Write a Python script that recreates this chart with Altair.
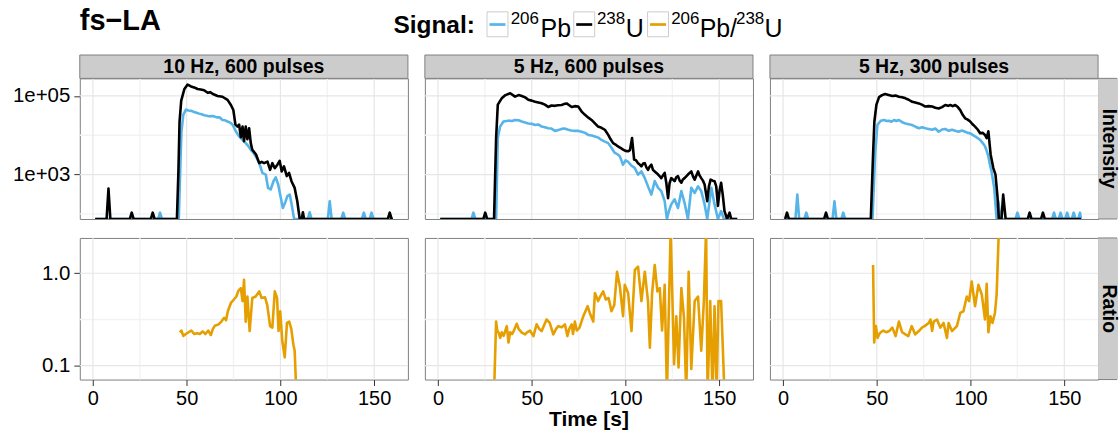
import altair as alt
import pandas as pd

FONT = "Liberation Sans"

# ---------------- data ----------------
PANEL_LABELS = ["10 Hz, 600 pulses", "5 Hz, 600 pulses", "5 Hz, 300 pulses"]
ROW_LABELS = ["Intensity", "Ratio"]
SERIES_NAMES = ["206Pb", "238U", "206Pb/238U"]
SERIES_COLORS = ["#56B4E9", "#000000", "#E69F00"]

X_TICKS = [0, 50, 100, 150]
X_MINOR = [25, 75, 125]
INT_TICKS = [1e3, 1e5]
INT_TICK_LABELS = ["1e+03", "1e+05"]
INT_MINOR = [1e2, 1e4]
RAT_TICKS = [0.1, 1.0]
RAT_MINOR = [0.316]

# 10 Hz, 600 pulses  (0 = no counts)
R1_PB_T = [1.2, 34.8, 35.8, 36.8, 45.8, 46.6, 47.2, 48.2, 49.6, 51.0, 52.5, 54.0, 55.2, 56.7, 58.0, 59.4,
           60.8, 62.1, 63.4, 64.7, 66.0, 67.5, 69.1, 70.5, 71.8, 73.2, 74.5, 76.2, 78.0, 79.8, 81.5,
           82.9, 84.2, 85.6, 86.9, 88.7, 90.4, 92.2, 93.4, 94.8, 96.3, 97.5, 98.8, 100.2, 101.3, 102.5,
           103.7, 105.0, 106.0, 107.3, 114.6, 115.6, 116.6, 125.3, 126.3, 127.3, 132.5, 133.5, 134.5,
           143.5, 144.5, 145.5, 147.6, 148.6, 149.6, 160.0]
R1_PB_V = [0, 0, 107, 0, 0, 1500, 12000, 33000, 44700, 42500, 41700, 38900, 37500, 35500, 34000, 32400,
           31500, 30200, 31000, 30200, 28500, 28800, 24500, 24000, 22400, 21000, 18600, 12600, 9330, 7590, 6310,
           5300, 4270, 3600, 2880, 1950, 1100, 1000, 457, 417, 676, 851, 562, 257, 141, 191,
           282, 309, 174, 0, 0, 110, 0, 0, 210, 0, 0, 107, 0,
           0, 107, 0, 0, 107, 0, 0]
R1_U_T = [1.2, 7.3, 8.3, 9.3, 19.7, 20.7, 21.7, 30.9, 31.9, 32.9, 44.8, 45.6, 46.2, 47.1, 48.8, 50.5,
          52.3, 54.0, 55.8, 57.5, 59.3, 61.2, 62.5, 64.0, 66.5, 69.1, 71.8, 73.6, 74.9, 76.0, 77.1,
          78.0, 78.9, 79.8, 80.6, 81.5, 82.4, 83.3, 84.2, 85.0, 87.0, 88.7, 90.0, 91.3, 93.1, 94.5,
          95.7, 97.0, 98.4, 99.6, 100.7, 101.9, 103.4, 104.6, 105.9, 107.6, 109.0, 110.3, 111.4, 112.0,
          112.6, 157.3, 158.3, 159.3, 160.0]
R1_U_V = [0, 0, 440, 0, 0, 107, 0, 0, 107, 0, 0, 1200, 22000, 76000, 151000, 195000,
          175000, 165000, 150000, 146000, 140000, 120000, 125000, 112000, 100000, 95500, 79400, 58900, 44000, 18600, 16600,
          18600, 8900, 16600, 7100, 16600, 7900, 15100, 6300, 4270, 3240, 1950, 2100, 1950, 2140, 1320,
          1950, 1450, 1780, 2240, 1200, 1620, 912, 1100, 676, 457, 209, 0, 0, 110,
          0, 0, 107, 0, 0]
R1_RAT_T = [46.4, 47.2, 48.2, 49.5, 51.0, 52.5, 54.0, 55.5, 57.0, 58.5, 60.0, 61.5, 62.9, 64.0, 65.0, 67.0,
            68.5, 70.0, 71.0, 72.0, 73.6, 75.2, 76.5, 77.5, 78.9, 79.8, 80.6, 81.5, 82.4, 83.6, 85.0,
            86.8, 88.7, 90.0, 91.8, 93.0, 94.5, 95.7, 97.0, 98.2, 99.0, 99.9, 101.0, 102.3, 103.5,
            104.7, 105.8, 106.9, 107.6, 108.5]
R1_RAT_V = [0.228, 0.24, 0.21, 0.22, 0.23, 0.24, 0.22, 0.225, 0.22, 0.235, 0.22, 0.24, 0.215, 0.25, 0.27, 0.28,
            0.30, 0.33, 0.31, 0.39, 0.477, 0.52, 0.56, 0.64, 0.69, 0.50, 0.85, 0.30, 0.56, 0.237, 0.54,
            0.56, 0.637, 0.54, 0.55, 0.45, 0.268, 0.258, 0.637, 0.54, 0.237, 0.388, 0.185, 0.123, 0.29,
            0.30, 0.25, 0.17, 0.145, 0.05]

# 5 Hz, 600 pulses
R2_PB_T = [1.2, 17.9, 18.9, 19.9, 31.0, 31.9, 33.1, 34.9, 37.6, 39.5, 41.1, 43.0, 44.7, 46.0, 48.2, 50.0,
           51.8, 53.5, 55.3, 57.0, 58.8, 60.5, 62.4, 64.0, 65.9, 67.5, 69.5, 71.0, 73.0, 75.0, 76.6,
           78.5, 80.1, 82.0, 83.7, 85.5, 87.2, 89.0, 90.8, 92.5, 94.3, 95.7, 97.0, 98.7, 100.0, 101.3,
           103.1, 104.9, 106.7, 108.5, 110.3, 112.0, 113.8, 115.6, 117.4, 119.1, 120.9, 122.1, 123.2,
           124.4, 126.2, 128.0, 129.8, 131.5, 133.3, 135.1, 136.9, 138.7, 140.4, 142.2, 143.6, 145.8,
           147.5, 149.3, 151.0, 152.5, 159.6]
R2_PB_V = [0, 0, 107, 0, 0, 8500, 16600, 22400, 23500, 23000, 24500, 24000, 22400, 21500, 20000, 19500,
           18200, 18800, 16600, 16000, 15100, 14800, 12900, 13500, 14500, 14800, 13800, 13200, 12900, 12900, 12300,
           11500, 10200, 9800, 9300, 8700, 7600, 6900, 6300, 4800, 3550, 3300, 2900, 1780, 2300, 2140,
           1700, 1480, 1000, 1200, 810, 500, 310, 680, 460, 380, 210, 0, 120,
           174, 234, 141, 380, 191, 0, 460, 339, 500, 380, 174, 0, 460,
           174, 0, 117, 0, 0]
R2_U_T = [1.2, 24.2, 25.2, 26.2, 29.9, 31.0, 31.9, 34.0, 36.0, 38.5, 41.1, 43.0, 44.7, 46.5, 48.2, 50.0,
          51.8, 53.5, 55.3, 57.0, 58.8, 60.5, 62.4, 64.0, 65.9, 67.2, 68.6, 70.0, 71.3, 73.0, 74.8,
          76.6, 78.4, 80.2, 81.9, 83.7, 85.4, 87.2, 89.0, 90.8, 92.0, 93.4, 94.7, 96.0, 97.3, 98.7,
          100.0, 101.3, 102.4, 103.5, 104.6, 105.6, 106.7, 107.6, 108.5, 109.4, 110.3, 111.2, 112.0,
          112.9, 113.8, 114.7, 115.6, 116.5, 117.4, 118.3, 119.1, 120.0, 120.9, 121.8, 122.7, 123.5,
          124.4, 125.3, 126.2, 127.1, 128.0, 128.9, 129.8, 130.6, 131.5, 132.4, 133.3, 134.2, 135.1,
          136.0, 136.9, 137.8, 138.7, 139.5, 140.4, 141.3, 142.2, 143.6, 144.5, 145.4, 146.5, 147.5,
          148.4, 149.3, 150.2, 151.0, 151.9, 152.8, 154.2, 155.5, 156.4, 159.6]
R2_U_V = [0, 0, 107, 0, 0, 8500, 60000, 87000, 105000, 117000, 96000, 105000, 100000, 92000, 80000, 76000,
          71000, 68000, 65000, 60000, 52500, 57000, 56000, 58000, 59000, 62000, 64500, 58000, 52500, 55000, 53700,
          40000, 33000, 28000, 24500, 20000, 16600, 15500, 13800, 10200, 8000, 6300, 5800, 5200, 4800, 4300,
          4000, 3900, 4200, 8500, 2400, 2300, 1950, 1800, 1620, 1900, 1950, 1500, 1320,
          1600, 1780, 1300, 1200, 1100, 1000, 900, 810, 950, 1100, 600, 250, 600,
          810, 750, 680, 850, 910, 700, 620, 750, 810, 900, 1000, 1100, 1200,
          900, 740, 950, 1200, 950, 810, 700, 560, 210, 500, 740, 700, 680,
          500, 160, 400, 620, 300, 117, 0, 107, 0, 0]
R2_RAT_T = [29.9, 31.0, 31.6, 32.3, 33.2, 34.0, 35.0, 36.7, 37.6, 38.5, 39.5, 40.5, 42.0, 43.0, 44.7, 46.5,
            47.5, 49.1, 50.9, 52.6, 54.0, 55.3, 57.9, 59.6, 61.5, 63.0, 64.2, 66.0, 67.7, 69.0, 70.0,
            71.3, 72.0, 73.0, 74.0, 75.5, 77.5, 79.8, 81.0, 82.8, 83.7, 85.4, 86.5, 88.1, 89.5, 91.0,
            92.5, 94.0, 95.5, 97.0, 98.7, 99.6, 101.4, 103.2, 105.0, 106.7, 108.5, 110.3, 112.0, 113.0,
            114.2, 115.6, 117.0, 118.3, 119.5, 120.9, 122.1, 124.1, 125.9, 127.1, 128.3, 129.8, 131.2,
            132.4, 133.7, 135.1, 136.9, 138.7, 140.4, 141.8, 143.0, 143.8, 145.2, 146.4, 147.5, 148.6,
            149.6, 151.0, 152.8]
R2_RAT_V = [0.05, 0.30, 0.24, 0.228, 0.20, 0.23, 0.21, 0.268, 0.178, 0.23, 0.22, 0.24, 0.284, 0.25, 0.228, 0.218,
            0.23, 0.24, 0.209, 0.28, 0.25, 0.237, 0.316, 0.29, 0.218, 0.25, 0.268, 0.26, 0.28, 0.209, 0.25,
            0.28, 0.22, 0.30, 0.24, 0.258, 0.343, 0.44, 0.37, 0.30, 0.61, 0.50, 0.56, 0.637, 0.52, 0.54,
            0.388, 0.45, 1.04, 0.72, 0.343, 0.75, 0.61, 0.237, 1.09, 1.18, 0.50, 1.04, 0.50, 0.157,
            0.61, 1.23, 0.637, 0.69, 0.24, 0.75, 0.05, 3.0, 0.104, 0.343, 0.096, 0.69, 0.33,
            0.05, 1.04, 0.092, 0.50, 0.56, 0.145, 0.50, 3.0, 0.05, 0.50, 0.05, 0.44, 0.05,
            0.50, 0.50, 0.05]

# 5 Hz, 300 pulses
R3_PB_T = [0.9, 6.6, 7.6, 8.6, 11.4, 12.4, 13.4, 26.4, 27.4, 28.4, 31.1, 32.1, 33.1, 47.7, 49.1, 50.3,
           52.1, 53.9, 55.2, 56.5, 57.8, 59.2, 60.5, 61.8, 63.5, 65.3, 67.0, 68.9, 70.6, 72.4, 74.2,
           75.9, 77.7, 79.5, 81.2, 83.0, 84.8, 86.5, 88.3, 90.1, 91.8, 93.6, 95.4, 97.1, 98.5, 99.8,
           101.1, 102.4, 103.8, 105.1, 106.4, 107.7, 108.6, 109.5, 110.3, 111.2, 112.6, 113.9, 114.8,
           116.0, 124.0, 125.0, 126.0, 143.5, 144.5, 145.5, 147.0, 148.0, 149.0, 150.5, 151.5, 152.5,
           154.0, 155.0, 156.0, 157.4, 158.4, 158.9]
R3_PB_V = [0, 0, 309, 0, 0, 107, 0, 0, 209, 0, 0, 107, 0, 0, 3240, 18200,
           23400, 24500, 23000, 23400, 22000, 24500, 23000, 24500, 21500, 20000, 19000, 18200, 16500, 15100, 16000,
           15100, 14500, 13800, 14800, 12300, 14000, 14500, 13000, 13800, 13000, 12300, 13200, 12300, 11500, 11200,
           10200, 9300, 8500, 7600, 6400, 5250, 4000, 2880, 1800, 1200, 457, 0, 209,
           0, 0, 107, 0, 0, 107, 0, 0, 107, 0, 0, 107, 0,
           0, 107, 0, 0, 107, 0]
R3_U_T = [0.9, 1.1, 2.1, 3.1, 21.9, 22.9, 23.9, 46.8, 48.0, 48.7, 49.8, 51.2, 52.8, 54.4, 56.3, 58.3,
          60.0, 61.8, 63.5, 65.3, 67.0, 68.9, 70.5, 72.4, 74.0, 75.9, 77.7, 79.5, 81.2, 83.0, 84.8,
          86.5, 88.0, 89.2, 90.5, 91.8, 93.2, 94.5, 95.8, 97.1, 98.5, 99.8, 101.1, 102.4, 103.8, 105.1,
          106.4, 107.7, 108.6, 109.5, 110.7, 112.1, 113.3, 114.4, 115.1, 116.5, 117.4, 118.7, 130.5,
          131.5, 132.5, 137.6, 138.6, 139.6, 158.9]
R3_U_V = [0, 0, 107, 0, 0, 107, 0, 0, 3240, 22400, 60300, 93000, 105000, 112000, 106000, 100000,
          102000, 95500, 93000, 87000, 80000, 70800, 68000, 64600, 60000, 53700, 55000, 53700, 50000, 47900, 52000,
          58900, 56000, 58900, 55000, 58900, 52000, 43600, 33000, 26900, 25000, 22400, 19000, 16600, 14000, 11200,
          11500, 10200, 8500, 12600, 3240, 1480, 1000, 257, 0, 0, 309, 0, 0,
          107, 0, 0, 107, 0, 0]
R3_RAT_T = [48.0, 48.6, 49.5, 50.4, 51.3, 52.1, 53.5, 55.0, 56.6, 58.3, 60.0, 61.8, 63.5, 65.3, 66.8, 68.6,
            70.5, 72.4, 74.2, 75.5, 77.7, 78.6, 79.5, 80.3, 82.1, 83.9, 85.6, 87.4, 88.3, 90.1, 92.7,
            94.5, 96.2, 98.0, 99.2, 100.6, 102.4, 104.2, 106.0, 107.7, 108.6, 109.5, 110.6, 111.7, 113.0,
            113.9, 115.1]
R3_RAT_V = [1.23, 0.178, 0.268, 0.20, 0.22, 0.23, 0.24, 0.23, 0.237, 0.258, 0.209, 0.30, 0.23, 0.218, 0.209, 0.268,
            0.218, 0.237, 0.26, 0.268, 0.29, 0.316, 0.237, 0.30, 0.316, 0.258, 0.29, 0.20, 0.29, 0.237, 0.268,
            0.372, 0.388, 0.56, 0.50, 0.815, 0.44, 0.75, 0.586, 0.316, 0.77, 0.23, 0.343, 0.29, 0.372,
            0.586, 3.0]

RUNS = [
    (R1_PB_T, R1_PB_V, R1_U_T, R1_U_V, R1_RAT_T, R1_RAT_V),
    (R2_PB_T, R2_PB_V, R2_U_T, R2_U_V, R2_RAT_T, R2_RAT_V),
    (R3_PB_T, R3_PB_V, R3_U_T, R3_U_V, R3_RAT_T, R3_RAT_V),
]

# ---------------- layout / style ----------------
W = 329
H_TOP = 141
H_BOT = 142
COL_GAP = 17
ROW_GAP = 19
OX, OY = 79, 76.7          # top-left of first panel on the page
FLOOR = 74                 # zero counts are drawn on the lower panel edge
X_DOMAIN = [-7, 168]
INT_DOMAIN = [FLOOR, 280000]
RAT_DOMAIN = [0.0708, 2.41]
GRID_MAJOR = "#E6E6E6"
GRID_MINOR = "#F3F3F3"
STRIP_FILL = "#CCCCCC"
BORDER = "#7F7F7F"
LW = 2.6

ONE = pd.DataFrame({"k": [0]})


def txt(s, x, y, size, bold=False, angle=0, align="left", baseline="alphabetic"):
    kw = dict(text=s, fontSize=size, fontWeight="bold" if bold else "normal", align=align,
              baseline=baseline, font=FONT, color="#000000")
    if angle:
        kw["angle"] = angle
    return alt.Chart(ONE).mark_text(**kw).encode(x=alt.value(x), y=alt.value(y))


def box(x1, x2, y1, y2, fill, stroke=None):
    kw = dict(fill=fill)
    if stroke:
        kw.update(stroke=stroke, strokeWidth=1)
    return alt.Chart(ONE).mark_rect(**kw).encode(
        x=alt.value(x1), x2=alt.value(x2), y=alt.value(y1), y2=alt.value(y2))


def seg(x1, x2, y, color, w=1):
    return alt.Chart(ONE).mark_rule(color=color, strokeWidth=w).encode(
        x=alt.value(x1), x2=alt.value(x2), y=alt.value(y))


def panel(col, row):
    H = H_TOP if row == 0 else H_BOT
    xs = alt.Scale(domain=X_DOMAIN, nice=False, zero=False)
    if row == 0:
        ys = alt.Scale(type="log", domain=INT_DOMAIN, nice=False)
        y_major, y_minor = INT_TICKS, INT_MINOR
    else:
        ys = alt.Scale(type="log", domain=RAT_DOMAIN, nice=False)
        y_major, y_minor = RAT_TICKS, RAT_MINOR

    if row == 1:
        xaxis = alt.Axis(values=X_TICKS, title=None, grid=False, domain=False, labelFontSize=20,
                         labelColor="#000000", labelFont=FONT, tickColor="#333333", tickSize=6,
                         tickWidth=1, labelPadding=3, labelOverlap=False, labelFlush=False)
    else:
        xaxis = None
    if col == 0:
        if row == 0:
            expr = " : ".join([f"datum.value < {INT_TICKS[1] / 2} ? '{INT_TICK_LABELS[0]}'", f"'{INT_TICK_LABELS[1]}'"])
            yaxis = alt.Axis(values=INT_TICKS, labelExpr=expr, title=None, grid=False, domain=False,
                             labelFontSize=20.5, labelColor="#000000", labelFont=FONT, tickColor="#333333",
                             tickSize=6, tickWidth=1, labelPadding=4, labelOverlap=False, labelFlush=False)
        else:
            yaxis = alt.Axis(values=RAT_TICKS, format=".1f", title=None, grid=False, domain=False,
                             labelFontSize=20.5, labelColor="#000000", labelFont=FONT, tickColor="#333333",
                             tickSize=6, tickWidth=1, labelPadding=4, labelOverlap=False, labelFlush=False)
    else:
        yaxis = None

    def xenc(field):
        return alt.X(f"{field}:Q", scale=xs, axis=xaxis)

    def yenc(field):
        return alt.Y(f"{field}:Q", scale=ys, axis=yaxis)

    layers = [
        alt.Chart(pd.DataFrame({"t": X_MINOR})).mark_rule(color=GRID_MINOR, strokeWidth=1.4).encode(x=xenc("t")),
        alt.Chart(pd.DataFrame({"vp": y_minor})).mark_rule(color=GRID_MINOR, strokeWidth=1.4).encode(y=yenc("vp")),
        alt.Chart(pd.DataFrame({"t": X_TICKS})).mark_rule(color=GRID_MAJOR, strokeWidth=1.2).encode(x=xenc("t")),
        alt.Chart(pd.DataFrame({"vp": y_major})).mark_rule(color=GRID_MAJOR, strokeWidth=1.2).encode(y=yenc("vp")),
    ]

    pb_t, pb_v, u_t, u_v, r_t, r_v = RUNS[col]
    if row == 0:
        for (tt, vv), colr in [((pb_t, pb_v), SERIES_COLORS[0]), ((u_t, u_v), SERIES_COLORS[1])]:
            df = pd.DataFrame({"t": tt, "v": vv})
            layers.append(
                alt.Chart(df).transform_calculate(vp=f"max(datum.v, {FLOOR})")
                .mark_line(color=colr, strokeWidth=LW, clip=True, strokeJoin="round")
                .encode(x=xenc("t"), y=yenc("vp"))
            )
    else:
        df = pd.DataFrame({"t": r_t, "vp": r_v})
        layers.append(
            alt.Chart(df).mark_line(color=SERIES_COLORS[2], strokeWidth=LW, clip=True, strokeJoin="round")
            .encode(x=xenc("t"), y=yenc("vp"))
        )

    # facet strips
    if row == 0:
        layers.append(box(0, W, -23.4, 0, STRIP_FILL, BORDER))
        layers.append(txt(PANEL_LABELS[col], W / 2, -5.2, 19.5, bold=True, align="center"))
    if col == 2:
        layers.append(box(W, W + 20, 0, H, STRIP_FILL))
        layers.append(seg(W, W + 19, 0, BORDER))
        layers.append(seg(W, W + 19, H, BORDER))
        layers.append(txt(ROW_LABELS[row], W + 11, H / 2, 19.5, bold=True, angle=90,
                          align="center", baseline="middle"))

    # x-axis title under the middle column
    if row == 1 and col == 1:
        layers.append(txt("Time [s]", W / 2, 188.3, 21, bold=True, align="center"))

    # page title and legend, positioned relative to the first panel
    if row == 0 and col == 0:
        layers.append(box(-OX, -OX + 1, -OY, -OY + 1, "#ffffff"))  # page anchor (top-left corner)
        layers.append(txt("fs\u2212LA", 0, 28.3 - OY, 29, bold=True))
        layers.append(txt("Signal:", 393.5 - OX, 31.7 - OY, 24.5, bold=True))
        key_x = [487.3, 574.3, 648.3]
        for kx, colr in zip(key_x, SERIES_COLORS):
            layers.append(box(kx - OX, kx + 21 - OX, 10 - OY, 35 - OY, "#ffffff", "#CCCCCC"))
            layers.append(seg(kx + 2.5 - OX, kx + 18.5 - OX, 22.7 - OY, colr, 2.7))
        pieces = [("206", 511.0, True), ("Pb", 541.0, False),
                  ("238", 597.5, True), ("U", 626.5, False),
                  ("206", 672.0, True), ("Pb/", 700.5, False),
                  ("238", 737.0, True), ("U", 765.5, False)]
        for s, px, sup in pieces:
            if sup:
                layers.append(txt(s, px - OX, 21.7 - OY, 17))
            else:
                layers.append(txt(s, px - OX, 35 - OY, 25))

    return alt.layer(*layers).properties(width=W, height=H)


panels = [panel(c, r) for r in range(2) for c in range(3)]

chart = alt.concat(
    *panels, columns=3, spacing={"row": ROW_GAP, "column": COL_GAP},
    bounds="flush", padding=0,
).configure(font=FONT).configure_view(stroke=BORDER, strokeWidth=1)

chart.save("out.html", embed_options={"renderer": "svg", "actions": False})
